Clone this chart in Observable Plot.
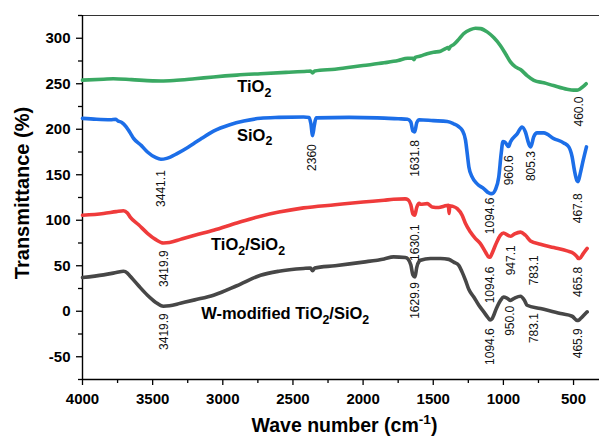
<!DOCTYPE html>
<html>
<head>
<meta charset="utf-8">
<script src="https://cdn.jsdelivr.net/npm/d3@7"></script>
<script src="https://cdn.jsdelivr.net/npm/@observablehq/plot@0.6"></script>
<style>
  body { margin: 0; background: #fff; }
  #chart svg { display: block; }
</style>
</head>
<body>
<div id="chart"></div>
<script>
// FTIR spectra: [wavenumber (cm-1), transmittance (%)] per sample (offset traces)
const tio2 = [[4000,254],[3850,255],[3780,255.5],[3650,254.5],[3500,253.2],[3441,253],[3350,253.5],[3200,255.5],[3066,257.5],[2900,259.5],[2731,261],[2550,262.5],[2400,263.7],[2375,264],[2360,262],[2345,264],[2200,266],[2000,270],[1850,273],[1750,275.5],[1683,278],[1645,278],[1638,276.5],[1628,279],[1591,280.5],[1543,283],[1498,284.6],[1448,285.7],[1413,288.6],[1395,289.7],[1388,288],[1380,290.5],[1355,293],[1320,298.5],[1284,305],[1235,309.5],[1199,311],[1163,310.6],[1116,307],[1069,300.7],[1022,292],[985,283],[950,274],[914,268.5],[878,265.6],[831,259],[783,253.8],[712,251],[643,248],[546,244],[500,243],[474,243],[450,244.7],[430,247],[410,250]];

const sio2 = [[4000,212],[3900,211],[3800,210.5],[3765,211],[3745,209],[3720,207.5],[3690,203],[3660,196],[3636,190],[3580,182],[3537,175],[3480,169],[3441,167],[3400,168],[3323,173.5],[3250,180],[3209,184],[3150,190],[3066,198],[2950,205],[2850,209],[2731,212],[2600,213],[2424,213.5],[2385,213],[2372,206],[2360,193],[2348,204],[2335,212.5],[2100,213],[1900,212.5],[1750,211.5],[1683,211],[1660,208],[1645,198],[1632,197],[1618,207],[1600,210.5],[1500,209.5],[1400,208.5],[1355,206],[1320,203],[1294,199],[1270,188],[1258,173.6],[1246,158.6],[1223,147.6],[1187,140],[1140,134.8],[1104,130],[1094.6,129.5],[1080,129.3],[1057,133.7],[1033,147.6],[1016,173],[1003,186.5],[990,186],[963,181],[950,186],[902,195],[867,202.5],[843,197],[819,184],[805.3,180.6],[784,191.6],[760,196],[712,196],[641,189.8],[570,185],[534,180.6],[510,169.6],[494,155],[474,143],[467.8,142.5],[455,149.5],[431,166],[408,180.6]];

const tio2sio2 = [[4000,105.5],[3850,107.5],[3760,109.5],[3708,110.5],[3680,108],[3660,103.5],[3600,95],[3537,85.7],[3480,79],[3423,75],[3380,75.5],[3302,79],[3200,83.5],[3066,89],[2900,97],[2731,104.5],[2600,109],[2424,113.6],[2200,117],[2000,120],[1850,122],[1783,123],[1700,123.5],[1680,122.5],[1660,117],[1645,107],[1632,105.5],[1618,114],[1600,118.5],[1591,117.6],[1543,118.3],[1508,114.6],[1460,114],[1424,115.4],[1392,116.5],[1387,107.5],[1382,116],[1364,115.4],[1329,112.8],[1294,105.5],[1270,96.3],[1235,87],[1199,79.8],[1164,74.4],[1128,65.2],[1104,59.7],[1094.6,59.5],[1087,61.5],[1057,72.5],[1022,83.5],[999,86],[968,83.5],[947.1,82.4],[920,85],[878,87],[843,83.5],[807,77.3],[736,73.6],[641,70],[546,66.3],[498,63.4],[474,59.7],[465.8,57.9],[457,58],[431,63.4],[403,69]];

const wTio2sio2 = [[4000,37],[3850,40],[3760,42.5],[3708,44],[3680,42],[3660,38.5],[3600,28],[3537,17.6],[3480,10],[3423,5.5],[3380,6],[3302,8.8],[3200,12.5],[3066,17.6],[2900,28],[2731,39.6],[2600,44],[2424,47],[2375,47.5],[2360,44.5],[2345,47.5],[2200,50],[2000,54],[1850,57.5],[1783,59.7],[1700,59],[1680,57.5],[1660,51],[1645,40],[1630,37.7],[1618,48],[1600,55],[1591,56],[1520,58],[1448,58],[1389,57],[1354,54],[1318,50.5],[1294,43],[1270,34],[1246,23.8],[1211,15.7],[1175,6.6],[1140,-0.7],[1110,-7],[1094.6,-9.5],[1080,-8],[1050,3],[1020,12],[999,15.7],[975,14.5],[950,12],[920,14.5],[878,16.5],[850,12],[831,6.6],[736,3],[593,-2.6],[510,-5.5],[474,-10],[465.9,-10],[450,-8],[427,-4.4],[403,-0.7]];

// Sample names, colours and where each name sits
const sampleNames = ["TiO₂", "SiO₂", "TiO₂/SiO₂", "W-modified TiO₂/SiO₂"];
const sampleColors = ["#3aa963", "#1c6ee8", "#ef3b3b", "#474747"];
const nameWave = [2776, 2773, 2820, 2555];
const nameT = [246.5, 193.4, 73.3, -2.5];

// Band assignments (wavenumber label) and the transmittance where each label begins
const peakText = ["460.0",
  "3441.1", "2360", "1631.8", "1094.6", "960.6", "805.3", "467.8",
  "3419.9", "1630.1", "1094.6", "947.1", "783.1", "465.8",
  "3419.9", "1629.9", "1094.6", "950.0", "783.1", "465.9"];
const peakTop = [236,
  155, 183.5, 188, 125, 171.4, 176, 129.7,
  67, 95.6, 49, 72.5, 61.5, 48.7,
  -2.2, 32, -18.7, 6, -2, -18.7];

// Axis ticks
const xMajor = [4000, 3500, 3000, 2500, 2000, 1500, 1000, 500];
const xMinor = [3750, 3250, 2750, 2250, 1750, 1250, 750];
const yMajor = [-50, 0, 50, 100, 150, 200, 250, 300];
const yMinor = [-75, -25, 25, 75, 125, 175, 225, 275, 325];

const series = [tio2, sio2, tio2sio2, wTio2sio2];
const spectra = series.flatMap((pts, k) => pts.map(([w, t]) => ({sample: sampleNames[k], w, t})));

const font = "'Liberation Sans', Arial, Helvetica, sans-serif";

const chart = Plot.plot({
  width: 599,
  height: 436,
  marginTop: 15,
  marginBottom: 57,
  marginLeft: 82,
  marginRight: 0,
  style: {fontFamily: font, background: "#fff", color: "#000", overflow: "visible"},
  x: {domain: [4000, 315]},
  y: {domain: [-75, 325]},
  color: {domain: sampleNames, range: sampleColors},
  marks: [
    Plot.ruleY([325], {stroke: "#333", strokeWidth: 1.2}),
    Plot.ruleY([-75], {stroke: "#000", strokeWidth: 1.4}),
    Plot.ruleX([4000], {stroke: "#000", strokeWidth: 1.4}),
    Plot.axisX(xMajor, {tickSize: 6, tickPadding: 8, tickFormat: d => String(d), fontSize: 15, fontWeight: "bold", label: null, strokeWidth: 1.3}),
    Plot.axisX(xMinor, {tickSize: 4, tickFormat: () => "", label: null, strokeWidth: 1.3}),
    Plot.axisY(yMajor, {tickSize: 6, tickPadding: 6, tickFormat: d => String(d), fontSize: 15, fontWeight: "bold", label: null, strokeWidth: 1.3}),
    Plot.axisY(yMinor, {tickSize: 4, tickFormat: () => "", label: null, strokeWidth: 1.3}),
    Plot.line(spectra, {x: "w", y: "t", z: "sample", stroke: "sample", strokeWidth: 3.6, curve: "monotone-x", strokeLinejoin: "round"}),
    Plot.text(peakText, {x: d => +d, y: (d, i) => peakTop[i], text: d => d, rotate: -90, textAnchor: "end", lineAnchor: "middle", fontSize: 12, fill: "#111"}),
    Plot.text(sampleNames, {x: (d, i) => nameWave[i], y: (d, i) => nameT[i], text: d => d, textAnchor: "middle", lineAnchor: "middle", fontSize: 16.5, fontWeight: "bold", fill: "#000"}),
    Plot.text(["Wave number (cm⁻¹)"], {frameAnchor: "bottom", textAnchor: "middle", lineAnchor: "middle", dx: 3.5, dy: 46, fontSize: 19.5, fontWeight: "bold", fill: "#000"}),
    Plot.text(["Transmittance (%)"], {frameAnchor: "left", textAnchor: "middle", lineAnchor: "middle", rotate: -90, dx: -59.5, dy: -4.5, fontSize: 20, fontWeight: "bold", fill: "#000"})
  ]
});

document.getElementById("chart").appendChild(chart);

// Render chemical subscripts and the cm⁻¹ superscript as shifted tspans
function richText(node) {
  const s = node.textContent;
  if (!/[₂⁻¹]/.test(s)) return;
  const fs = parseFloat(getComputedStyle(node).fontSize) || 16;
  node.textContent = "";
  let shift = 0;
  for (const part of s.split(/(₂|⁻¹)/)) {
    if (!part) continue;
    const t = document.createElementNS("http://www.w3.org/2000/svg", "tspan");
    let target = 0;
    if (part === "₂") {
      t.textContent = "2";
      target = 0.3 * fs;
      t.setAttribute("font-size", 0.75 * fs);
    } else if (part === "⁻¹") {
      t.textContent = "-1";
      target = -0.42 * fs;
      t.setAttribute("font-size", 0.7 * fs);
    } else {
      t.textContent = part;
    }
    const d = target - shift;
    if (d) t.setAttribute("dy", d);
    shift = target;
    node.appendChild(t);
  }
}
d3.select(chart).selectAll("text").each(function () { richText(this); });
</script>
</body>
</html>
